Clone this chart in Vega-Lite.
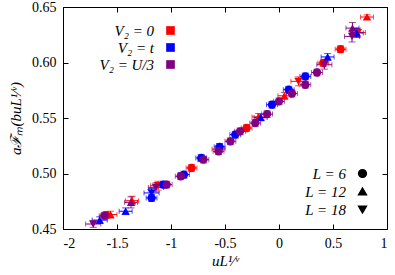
{
  "$schema": "https://vega.github.io/schema/vega-lite/v6.json",
  "width": 324,
  "height": 222,
  "autosize": "none",
  "padding": {"left": 63, "top": 7, "right": 8, "bottom": 46},
  "background": "white",
  "config": {
    "font": "Liberation Serif",
    "view": {"stroke": "black", "strokeWidth": 1},
    "axis": {
      "labelFont": "Liberation Serif",
      "labelFontSize": 14,
      "labelColor": "black",
      "titleFont": "Liberation Serif",
      "titleFontSize": 15,
      "titleFontStyle": "italic",
      "titleFontWeight": "normal",
      "titleColor": "black",
      "grid": false,
      "domain": false,
      "tickColor": "black",
      "tickSize": -5,
      "labelPadding": 12
    },
    "legend": {
      "labelFont": "Liberation Serif",
      "labelFontSize": 15,
      "labelFontStyle": "italic",
      "labelColor": "black",
      "symbolOpacity": 1,
      "symbolBaseFillColor": "black",
      "symbolBaseStrokeColor": "black"
    }
  },
  "data": {
    "values": [
      {"V": "0", "L": 6, "x": -1.60, "y": 0.4625, "ex": 0.05, "ey": 0.003},
      {"V": "0", "L": 12, "x": -1.56, "y": 0.463, "ex": 0.06, "ey": 0.003},
      {"V": "0", "L": 12, "x": -1.36, "y": 0.4755, "ex": 0.06, "ey": 0.004},
      {"V": "0", "L": 18, "x": -1.12, "y": 0.489, "ex": 0.07, "ey": 0.004},
      {"V": "0", "L": 6, "x": -0.81, "y": 0.505, "ex": 0.05, "ey": 0.003},
      {"V": "0", "L": 12, "x": -0.56, "y": 0.522, "ex": 0.06, "ey": 0.003},
      {"V": "0", "L": 6, "x": -0.30, "y": 0.541, "ex": 0.05, "ey": 0.003},
      {"V": "0", "L": 12, "x": -0.19, "y": 0.551, "ex": 0.06, "ey": 0.003},
      {"V": "0", "L": 12, "x": 0.05, "y": 0.570, "ex": 0.06, "ey": 0.003},
      {"V": "0", "L": 18, "x": 0.18, "y": 0.583, "ex": 0.07, "ey": 0.004},
      {"V": "0", "L": 6, "x": 0.41, "y": 0.5995, "ex": 0.05, "ey": 0.003},
      {"V": "0", "L": 6, "x": 0.57, "y": 0.612, "ex": 0.05, "ey": 0.003},
      {"V": "0", "L": 18, "x": 0.73, "y": 0.627, "ex": 0.07, "ey": 0.004},
      {"V": "0", "L": 12, "x": 0.815, "y": 0.641, "ex": 0.06, "ey": 0.002},
      {"V": "t", "L": 12, "x": -1.66, "y": 0.458, "ex": 0.07, "ey": 0.003},
      {"V": "t", "L": 12, "x": -1.42, "y": 0.466, "ex": 0.06, "ey": 0.003},
      {"V": "t", "L": 6, "x": -1.18, "y": 0.478, "ex": 0.05, "ey": 0.003},
      {"V": "t", "L": 18, "x": -1.18, "y": 0.4825, "ex": 0.07, "ey": 0.004},
      {"V": "t", "L": 6, "x": -1.07, "y": 0.490, "ex": 0.05, "ey": 0.003},
      {"V": "t", "L": 6, "x": -0.88, "y": 0.499, "ex": 0.05, "ey": 0.003},
      {"V": "t", "L": 6, "x": -0.72, "y": 0.514, "ex": 0.05, "ey": 0.003},
      {"V": "t", "L": 6, "x": -0.55, "y": 0.524, "ex": 0.05, "ey": 0.003},
      {"V": "t", "L": 6, "x": -0.405, "y": 0.535, "ex": 0.05, "ey": 0.003},
      {"V": "t", "L": 12, "x": -0.17, "y": 0.5505, "ex": 0.06, "ey": 0.003},
      {"V": "t", "L": 6, "x": -0.065, "y": 0.562, "ex": 0.05, "ey": 0.003},
      {"V": "t", "L": 6, "x": 0.09, "y": 0.5755, "ex": 0.05, "ey": 0.003},
      {"V": "t", "L": 6, "x": 0.244, "y": 0.5875, "ex": 0.05, "ey": 0.003},
      {"V": "t", "L": 12, "x": 0.45, "y": 0.605, "ex": 0.06, "ey": 0.003},
      {"V": "t", "L": 12, "x": 0.72, "y": 0.6266, "ex": 0.06, "ey": 0.004},
      {"V": "U/3", "L": 18, "x": -1.72, "y": 0.4545, "ex": 0.07, "ey": 0.003},
      {"V": "U/3", "L": 6, "x": -1.615, "y": 0.462, "ex": 0.05, "ey": 0.003},
      {"V": "U/3", "L": 12, "x": -1.37, "y": 0.474, "ex": 0.06, "ey": 0.005},
      {"V": "U/3", "L": 18, "x": -1.14, "y": 0.4875, "ex": 0.07, "ey": 0.004},
      {"V": "U/3", "L": 6, "x": -1.04, "y": 0.490, "ex": 0.05, "ey": 0.003},
      {"V": "U/3", "L": 6, "x": -0.91, "y": 0.4975, "ex": 0.05, "ey": 0.003},
      {"V": "U/3", "L": 6, "x": -0.70, "y": 0.5125, "ex": 0.05, "ey": 0.003},
      {"V": "U/3", "L": 6, "x": -0.56, "y": 0.520, "ex": 0.05, "ey": 0.003},
      {"V": "U/3", "L": 6, "x": -0.45, "y": 0.529, "ex": 0.05, "ey": 0.003},
      {"V": "U/3", "L": 6, "x": -0.36, "y": 0.538, "ex": 0.05, "ey": 0.003},
      {"V": "U/3", "L": 6, "x": -0.22, "y": 0.5455, "ex": 0.05, "ey": 0.003},
      {"V": "U/3", "L": 6, "x": -0.11, "y": 0.5535, "ex": 0.05, "ey": 0.003},
      {"V": "U/3", "L": 6, "x": 0.0, "y": 0.565, "ex": 0.05, "ey": 0.003},
      {"V": "U/3", "L": 6, "x": 0.12, "y": 0.572, "ex": 0.05, "ey": 0.003},
      {"V": "U/3", "L": 6, "x": 0.244, "y": 0.580, "ex": 0.05, "ey": 0.003},
      {"V": "U/3", "L": 6, "x": 0.352, "y": 0.591, "ex": 0.05, "ey": 0.003},
      {"V": "U/3", "L": 18, "x": 0.42, "y": 0.598, "ex": 0.07, "ey": 0.004},
      {"V": "U/3", "L": 18, "x": 0.676, "y": 0.6235, "ex": 0.07, "ey": 0.005},
      {"V": "U/3", "L": 12, "x": 0.68, "y": 0.631, "ex": 0.06, "ey": 0.005}
    ]
  },
  "layer": [
    {
      "mark": {"type": "errorbar", "ticks": {"size": 5}, "thickness": 1},
      "encoding": {
        "x": {"field": "x", "type": "quantitative", "scale": {"domain": [-2, 1], "nice": false, "zero": false}, "axis": null},
        "xError": {"field": "ex"},
        "y": {"field": "y", "type": "quantitative", "scale": {"domain": [0.45, 0.65], "nice": false, "zero": false}, "axis": null},
        "color": {"field": "V", "type": "nominal", "scale": {"domain": ["0", "t", "U/3"], "range": ["#ff0000", "#0000ff", "#800080"]}}
      }
    },
    {
      "mark": {"type": "errorbar", "ticks": {"size": 7}, "thickness": 1},
      "encoding": {
        "x": {"field": "x", "type": "quantitative", "axis": null},
        "y": {"field": "y", "type": "quantitative", "axis": null},
        "yError": {"field": "ey"},
        "color": {"field": "V", "type": "nominal"}
      }
    },
    {
      "mark": {"type": "point", "filled": true, "size": 70, "opacity": 1},
      "encoding": {
        "x": {"field": "x", "type": "quantitative", "axis": {"orient": "bottom", "values": [-2, -1.5, -1, -0.5, 0, 0.5, 1], "labelExpr": "'' + datum.value", "title": "uL¹⁄ᵛ", "titlePadding": 3}},
        "y": {"field": "y", "type": "quantitative", "axis": {"orient": "left", "values": [0.45, 0.5, 0.55, 0.6, 0.65], "format": ".2f", "title": "aℱₘ(buL¹⁄ᵛ)", "titlePadding": 8}},
        "color": {"field": "V", "type": "nominal", "legend": {"orient": "none", "legendX": 100, "legendY": 16, "symbolType": "square", "symbolSize": 75, "symbolOpacity": 1, "symbolStrokeWidth": 0, "labelAlign": "right", "labelOffset": -24, "rowPadding": 1, "title": null, "labelExpr": "'V₂ = ' + datum.label"}},
        "shape": {"field": "L", "type": "nominal", "scale": {"domain": [6, 12, 18], "range": ["circle", "triangle-up", "triangle-down"]}, "legend": {"orient": "none", "legendX": 292, "legendY": 159, "symbolSize": 60, "symbolOpacity": 1, "symbolFillColor": "black", "symbolStrokeColor": "black", "labelAlign": "right", "labelOffset": -24, "rowPadding": 2, "title": null, "labelExpr": "'L = ' + datum.label"}}
      }
    },
    {
      "mark": {"type": "point", "opacity": 0},
      "encoding": {
        "x": {"field": "x", "type": "quantitative", "axis": {"orient": "top", "values": [-2, -1.5, -1, -0.5, 0, 0.5, 1], "labels": false, "title": null}},
        "y": {"field": "y", "type": "quantitative", "axis": {"orient": "right", "values": [0.45, 0.5, 0.55, 0.6, 0.65], "labels": false, "title": null}}
      }
    }
  ]
}
